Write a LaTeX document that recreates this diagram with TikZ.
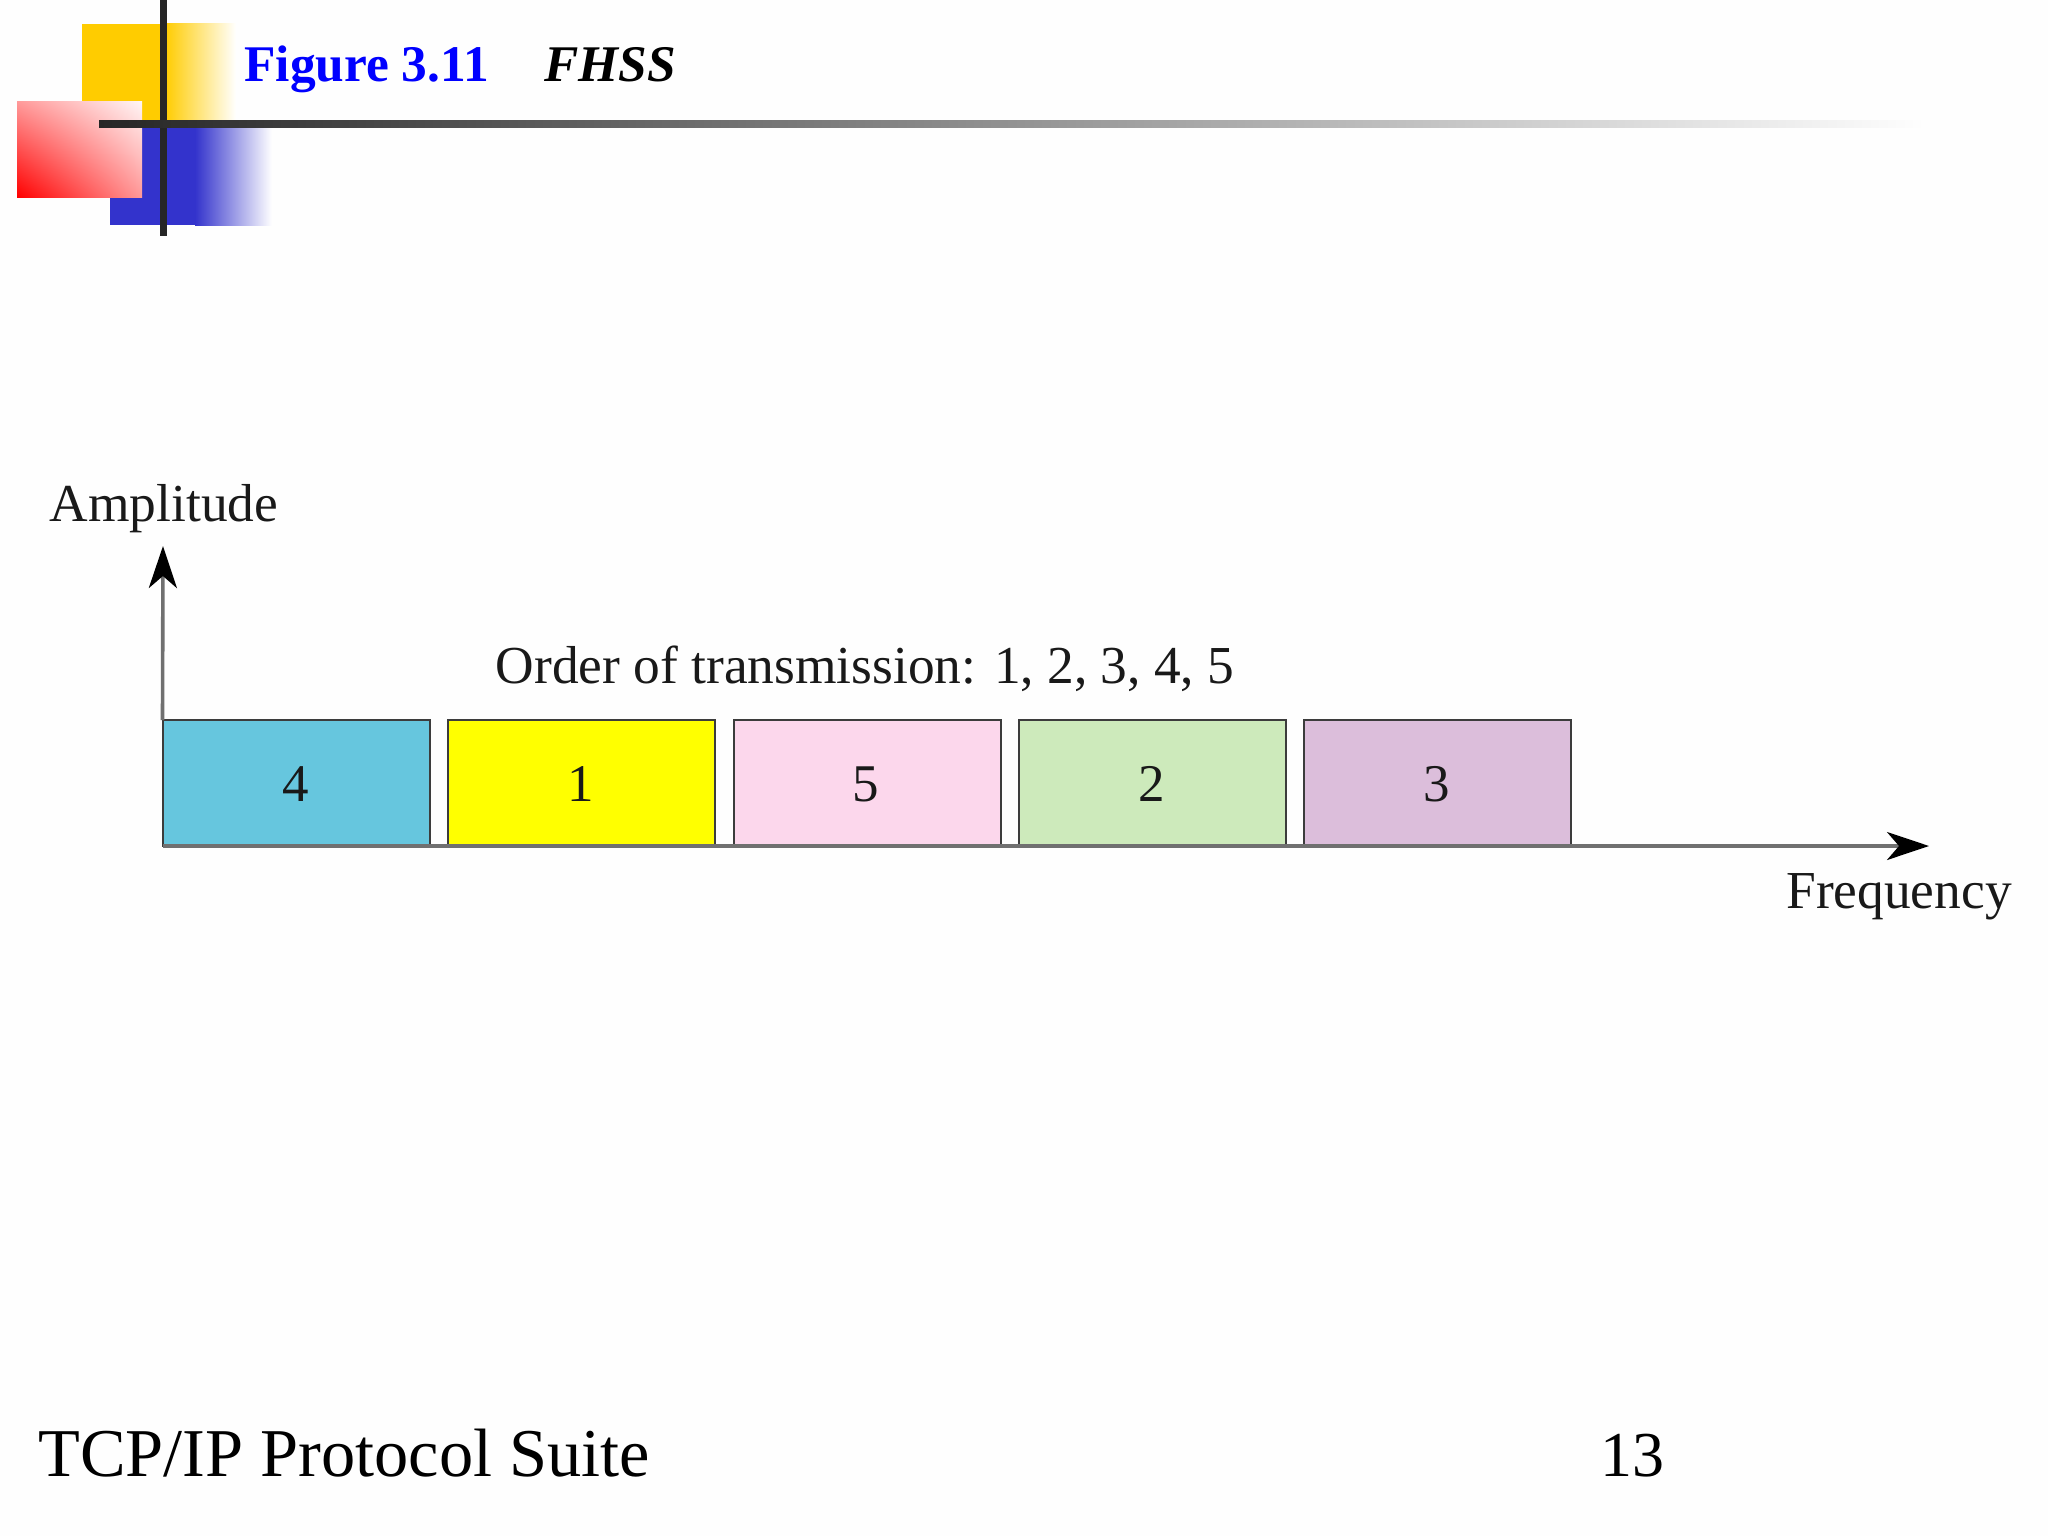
\documentclass[tikz,border=0pt]{standalone}
\usepackage{fontspec}
\setmainfont{Liberation Serif}
\usetikzlibrary{arrows.meta,shadings}
\definecolor{bgc}{HTML}{FEFEFE}
\definecolor{logoyellow}{HTML}{FFCC00}
\definecolor{logoblue}{HTML}{3333CC}
\definecolor{lbar}{HTML}{262626}
\definecolor{axisc}{HTML}{707070}
\definecolor{edgec}{HTML}{3C3C3C}
\definecolor{cfour}{HTML}{66C6DE}
\definecolor{cone}{HTML}{FFFF00}
\definecolor{cfive}{HTML}{FCD7EC}
\definecolor{ctwo}{HTML}{CDEABB}
\definecolor{cthree}{HTML}{DCBEDB}
\tikzset{
  band/.style={draw=edgec,line width=1pt,minimum width=133.5pt,minimum height=63pt,inner sep=0pt,outer sep=0pt,anchor=north west},
  lab/.style={font=\fontsize{26.7pt}{30pt}\selectfont,text=black!90,inner sep=0pt,anchor=base},
  digit/.style={font=\fontsize{26.5pt}{30pt}\selectfont,text=black!90,inner sep=0pt,anchor=base},
  foot/.style={font=\fontsize{34.2pt}{38pt}\selectfont,text=black,inner sep=0pt,anchor=base west},
  axisline/.style={draw=axisc,line width=1.8pt,-{Stealth[length=21pt,width=14pt,inset=6pt,color=black]}},
}
\begin{document}
\begin{tikzpicture}[x=0.5pt,y=-0.5pt]
\useasboundingbox (0,0) rectangle (2048,1536);
\fill[bgc] (0,0) rectangle (2048,1536);
% logo
\fill[logoyellow] (82,24) rectangle (165.5,124);
\shade[left color=logoyellow,right color=white] (165,24) rectangle (236,124);
\fill[logoblue] (110,124) rectangle (195.5,225);
\shade[left color=logoblue,right color=white] (195,124) rectangle (272,225);
\shade[shading=bilinear interpolation,lower left=red,lower right=red!40!white,upper left=red!40!white,upper right=red!4!white] (17,102) rectangle (142,197);
\fill[lbar] (159.5,0) rectangle (166.5,236);
\shade[left color=lbar,middle color=black!60,right color=bgc] (99,120) rectangle (1925,127);
% title
\node[font=\fontsize{25.7pt}{29pt}\selectfont\bfseries,text=blue,inner sep=0pt,anchor=base west] (title) at (244,82) {Figure 3.11};
\node[font=\fontsize{25.7pt}{29pt}\selectfont\bfseries\itshape,text=black,inner sep=0pt,anchor=base west] (sub) at (544,82) {FHSS};
% bands
\node[band,fill=cfour] (b4) at (162.5,720) {};
\node[band,fill=cone] (b1) at (447.5,720) {};
\node[band,fill=cfive] (b5) at (733.5,720) {};
\node[band,fill=ctwo] (b2) at (1019,720) {};
\node[band,fill=cthree] (b3) at (1304,720) {};
\node[digit] (t4) at (296,801) {4};
\node[digit] (t1) at (581,801) {1};
\node[digit] (t5) at (866,801) {5};
\node[digit] (t2) at (1152,801) {2};
\node[digit] (t3) at (1437,801) {3};
% axes
\coordinate (origin) at (163,846);
\coordinate (ytip) at (163,546);
\coordinate (xtip) at (1929,846);
\draw[axisline] (b4.north west) -- (ytip);
\draw[axisline] (origin) -- (xtip);
% labels
\node[lab] (amp) at (164,521) {Amplitude};
\node[lab] (order) at (865,683) {Order of transmission: 1, 2, 3, 4, 5};
\node[lab] (freq) at (1899,908) {Frequency};
% footer
\node[foot] (suite) at (38,1476) {TCP/IP Protocol Suite};
\node[foot,font=\fontsize{32pt}{36pt}\selectfont] (page) at (1600,1476) {13};
\end{tikzpicture}
\end{document}
